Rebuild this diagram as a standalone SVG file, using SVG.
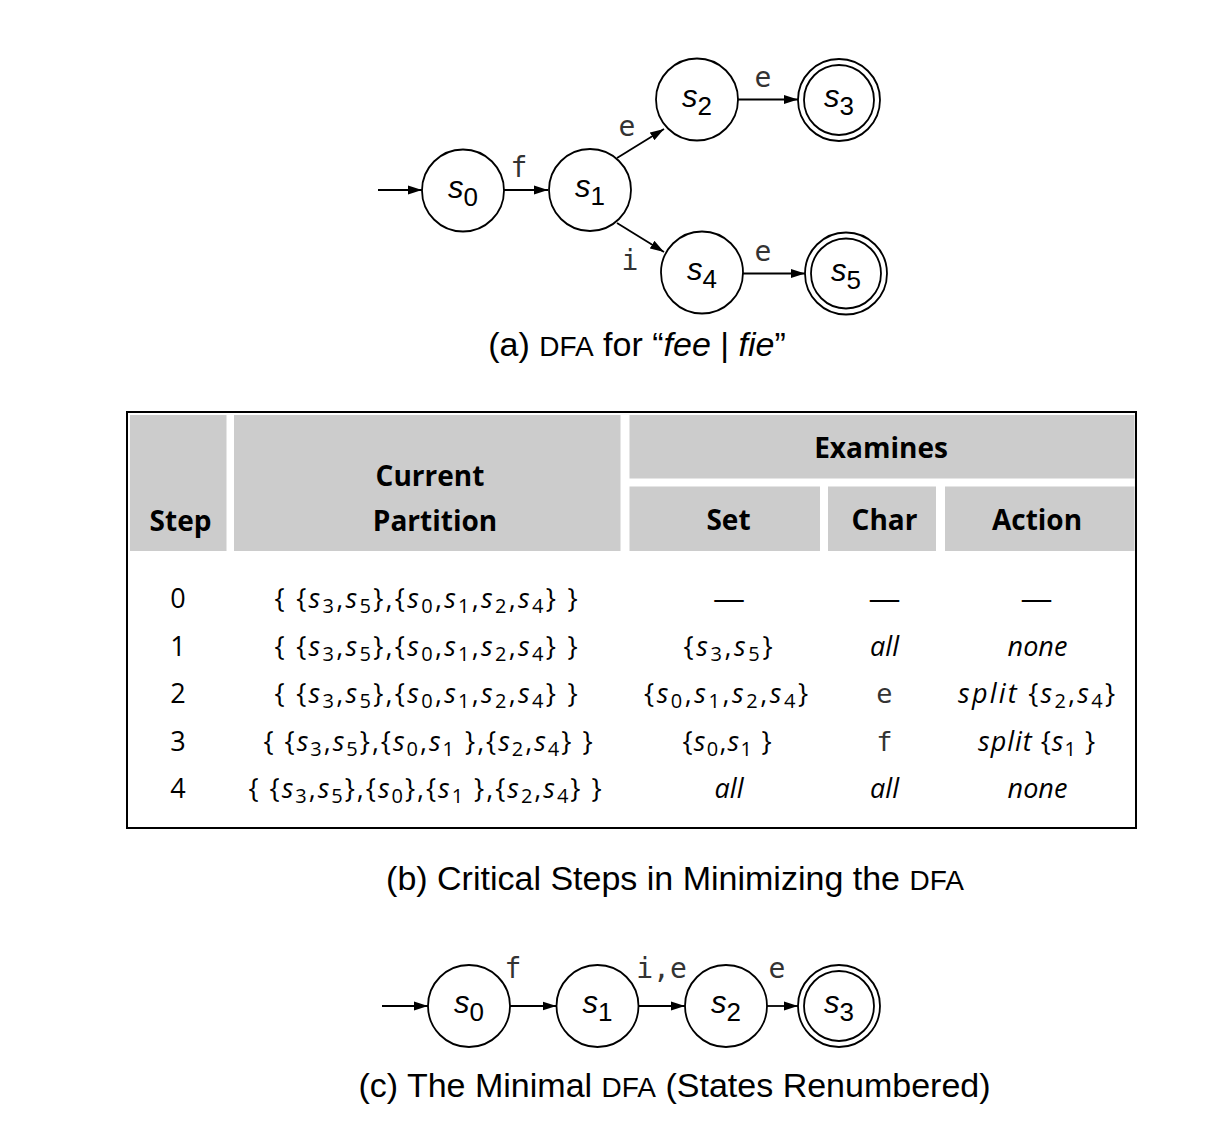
<svg xmlns="http://www.w3.org/2000/svg" width="1228" height="1134" viewBox="0 0 1228 1134">
<defs>
<marker id="ah" markerWidth="15" markerHeight="10" refX="14" refY="5" orient="auto" markerUnits="userSpaceOnUse"><path d="M0,0.5 L14,5 L0,9.5 z" fill="#000"/></marker>
<style>
.st{fill:#fff;stroke:#000;stroke-width:1.8}
.ed{stroke:#000;stroke-width:1.8;fill:none;marker-end:url(#ah)}
.sl{font-family:"Liberation Sans",Arial,sans-serif;font-style:italic;font-size:31px;text-anchor:middle;fill:#000}
.sub{font-style:normal;font-size:26px}
.lb{font-family:"DejaVu Sans Mono",monospace;font-size:28px;fill:#333;text-anchor:middle}
.cap{font-family:"Liberation Sans",Arial,sans-serif;font-size:34px;text-anchor:middle;fill:#000}
.sc{font-size:28px}
.hd{fill:#cccccc}
.ht{font-family:"Open Sans","Noto Sans",sans-serif;font-weight:bold;font-size:28px;text-anchor:middle;fill:#000}
.bt{font-family:"Open Sans","Noto Sans",sans-serif;font-size:27px;text-anchor:middle;fill:#000}
.it{font-style:italic}
.sb{font-size:20px;font-style:normal}
.mo{font-family:"DejaVu Sans Mono",monospace;font-size:27px;fill:#333}
</style>
</defs>
<rect width="1228" height="1134" fill="#fff"/>

<!-- (a) DFA -->
<g id="a_edges">
<line class="ed" x1="378" y1="190" x2="422" y2="190"/>
<line class="ed" x1="504" y1="190" x2="548" y2="190"/>
<line class="ed" x1="617" y1="158" x2="664" y2="129"/>
<line class="ed" x1="617" y1="223" x2="664" y2="252"/>
<line class="ed" x1="738" y1="99.5" x2="798" y2="99.5"/>
<line class="ed" x1="743" y1="273.5" x2="805" y2="273.5"/>
<text class="lb" x="519" y="177">f</text>
<text class="lb" x="627" y="136">e</text>
<text class="lb" x="630" y="270">i</text>
<text class="lb" x="763" y="87">e</text>
<text class="lb" x="763" y="261">e</text>
</g>
<g id="a_s0"><circle class="st" cx="463" cy="190.5" r="41"/><text class="sl" x="463" y="197.5">s<tspan class="sub" dy="8">0</tspan></text></g>
<g id="a_s1"><circle class="st" cx="590" cy="190" r="41"/><text class="sl" x="590" y="197">s<tspan class="sub" dy="8">1</tspan></text></g>
<g id="a_s2"><circle class="st" cx="697" cy="99.5" r="41"/><text class="sl" x="697" y="106.5">s<tspan class="sub" dy="8">2</tspan></text></g>
<g id="a_s3"><circle class="st" cx="839" cy="100" r="41"/><circle class="st" cx="839" cy="100" r="35"/><text class="sl" x="839" y="107">s<tspan class="sub" dy="8">3</tspan></text></g>
<g id="a_s4"><circle class="st" cx="702" cy="272.5" r="41"/><text class="sl" x="702" y="279.5">s<tspan class="sub" dy="8">4</tspan></text></g>
<g id="a_s5"><circle class="st" cx="846" cy="273.5" r="41"/><circle class="st" cx="846" cy="273.5" r="35"/><text class="sl" x="846" y="280.5">s<tspan class="sub" dy="8">5</tspan></text></g>
<text class="cap" x="637" y="356">(a) <tspan class="sc">DFA</tspan> for “<tspan font-style="italic">fee</tspan> | <tspan font-style="italic">fie</tspan>”</text>

<!-- (b) table -->
<g id="table">
<rect x="127" y="412" width="1009" height="416" fill="#fff" stroke="#000" stroke-width="2"/>
<rect class="hd" x="130" y="415" width="96.5" height="136"/>
<rect class="hd" x="234" y="415" width="386.5" height="136"/>
<rect class="hd" x="629.5" y="415" width="505" height="63.5"/>
<rect class="hd" x="629.5" y="486.5" width="190.5" height="64.5"/>
<rect class="hd" x="828" y="486.5" width="108" height="64.5"/>
<rect class="hd" x="945" y="486.5" width="189.5" height="64.5"/>
<text class="ht" x="180.5" y="531">Step</text>
<text class="ht" x="430" y="486">Current</text>
<text class="ht" x="435" y="531">Partition</text>
<text class="ht" x="881" y="458">Examines</text>
<text class="ht" x="728.5" y="530">Set</text>
<text class="ht" x="884.5" y="530">Char</text>
<text class="ht" x="1037" y="530">Action</text>

<text class="bt" x="178" y="608">0</text>
<text class="bt" x="178" y="655.6">1</text>
<text class="bt" x="178" y="703.2">2</text>
<text class="bt" x="178" y="750.8">3</text>
<text class="bt" x="178" y="798.4">4</text>

<text class="bt" x="426" y="608" textLength="303" lengthAdjust="spacing">{ {<tspan class="it">s</tspan><tspan class="sb" dy="5">3</tspan><tspan dy="-5">,</tspan><tspan class="it">s</tspan><tspan class="sb" dy="5">5</tspan><tspan dy="-5">},{</tspan><tspan class="it">s</tspan><tspan class="sb" dy="5">0</tspan><tspan dy="-5">,</tspan><tspan class="it">s</tspan><tspan class="sb" dy="5">1</tspan><tspan dy="-5">,</tspan><tspan class="it">s</tspan><tspan class="sb" dy="5">2</tspan><tspan dy="-5">,</tspan><tspan class="it">s</tspan><tspan class="sb" dy="5">4</tspan><tspan dy="-5">} }</tspan></text>
<text class="bt" x="426" y="655.6" textLength="303" lengthAdjust="spacing">{ {<tspan class="it">s</tspan><tspan class="sb" dy="5">3</tspan><tspan dy="-5">,</tspan><tspan class="it">s</tspan><tspan class="sb" dy="5">5</tspan><tspan dy="-5">},{</tspan><tspan class="it">s</tspan><tspan class="sb" dy="5">0</tspan><tspan dy="-5">,</tspan><tspan class="it">s</tspan><tspan class="sb" dy="5">1</tspan><tspan dy="-5">,</tspan><tspan class="it">s</tspan><tspan class="sb" dy="5">2</tspan><tspan dy="-5">,</tspan><tspan class="it">s</tspan><tspan class="sb" dy="5">4</tspan><tspan dy="-5">} }</tspan></text>
<text class="bt" x="426" y="703.2" textLength="303" lengthAdjust="spacing">{ {<tspan class="it">s</tspan><tspan class="sb" dy="5">3</tspan><tspan dy="-5">,</tspan><tspan class="it">s</tspan><tspan class="sb" dy="5">5</tspan><tspan dy="-5">},{</tspan><tspan class="it">s</tspan><tspan class="sb" dy="5">0</tspan><tspan dy="-5">,</tspan><tspan class="it">s</tspan><tspan class="sb" dy="5">1</tspan><tspan dy="-5">,</tspan><tspan class="it">s</tspan><tspan class="sb" dy="5">2</tspan><tspan dy="-5">,</tspan><tspan class="it">s</tspan><tspan class="sb" dy="5">4</tspan><tspan dy="-5">} }</tspan></text>
<text class="bt" x="428" y="750.8" textLength="329" lengthAdjust="spacing">{ {<tspan class="it">s</tspan><tspan class="sb" dy="5">3</tspan><tspan dy="-5">,</tspan><tspan class="it">s</tspan><tspan class="sb" dy="5">5</tspan><tspan dy="-5">},{</tspan><tspan class="it">s</tspan><tspan class="sb" dy="5">0</tspan><tspan dy="-5">,</tspan><tspan class="it">s</tspan><tspan class="sb" dy="5">1</tspan><tspan dy="-5"> },{</tspan><tspan class="it">s</tspan><tspan class="sb" dy="5">2</tspan><tspan dy="-5">,</tspan><tspan class="it">s</tspan><tspan class="sb" dy="5">4</tspan><tspan dy="-5">} }</tspan></text>
<text class="bt" x="425" y="798.4" textLength="353" lengthAdjust="spacing">{ {<tspan class="it">s</tspan><tspan class="sb" dy="5">3</tspan><tspan dy="-5">,</tspan><tspan class="it">s</tspan><tspan class="sb" dy="5">5</tspan><tspan dy="-5">},{</tspan><tspan class="it">s</tspan><tspan class="sb" dy="5">0</tspan><tspan dy="-5">},{</tspan><tspan class="it">s</tspan><tspan class="sb" dy="5">1</tspan><tspan dy="-5"> },{</tspan><tspan class="it">s</tspan><tspan class="sb" dy="5">2</tspan><tspan dy="-5">,</tspan><tspan class="it">s</tspan><tspan class="sb" dy="5">4</tspan><tspan dy="-5">} }</tspan></text>

<text class="bt" x="729" y="608" textLength="32" lengthAdjust="spacingAndGlyphs">—</text>
<text class="bt" x="884.5" y="608" textLength="32" lengthAdjust="spacingAndGlyphs">—</text>
<text class="bt" x="1036.5" y="608" textLength="32" lengthAdjust="spacingAndGlyphs">—</text>

<text class="bt" x="728" y="655.6" textLength="89" lengthAdjust="spacing">{<tspan class="it">s</tspan><tspan class="sb" dy="5">3</tspan><tspan dy="-5">,</tspan><tspan class="it">s</tspan><tspan class="sb" dy="5">5</tspan><tspan dy="-5">}</tspan></text>
<text class="bt" x="726" y="703.2" textLength="164" lengthAdjust="spacing">{<tspan class="it">s</tspan><tspan class="sb" dy="5">0</tspan><tspan dy="-5">,</tspan><tspan class="it">s</tspan><tspan class="sb" dy="5">1</tspan><tspan dy="-5">,</tspan><tspan class="it">s</tspan><tspan class="sb" dy="5">2</tspan><tspan dy="-5">,</tspan><tspan class="it">s</tspan><tspan class="sb" dy="5">4</tspan><tspan dy="-5">}</tspan></text>
<text class="bt" x="727" y="750.8" textLength="89" lengthAdjust="spacing">{<tspan class="it">s</tspan><tspan class="sb" dy="5">0</tspan><tspan dy="-5">,</tspan><tspan class="it">s</tspan><tspan class="sb" dy="5">1</tspan><tspan dy="-5"> }</tspan></text>
<text class="bt it" x="729" y="798.4">all</text>

<text class="bt it" x="884.5" y="655.6">all</text>
<text class="bt mo" x="884.5" y="703.2">e</text>
<text class="bt mo" x="884.5" y="750.8">f</text>
<text class="bt it" x="884.5" y="798.4">all</text>

<text class="bt it" x="1037.5" y="655.6">none</text>
<text class="bt" x="1036.5" y="703.2" textLength="157" lengthAdjust="spacing"><tspan class="it">split</tspan> {<tspan class="it">s</tspan><tspan class="sb" dy="5">2</tspan><tspan dy="-5">,</tspan><tspan class="it">s</tspan><tspan class="sb" dy="5">4</tspan><tspan dy="-5">}</tspan></text>
<text class="bt" x="1036.5" y="750.8" textLength="117" lengthAdjust="spacing"><tspan class="it">split</tspan> {<tspan class="it">s</tspan><tspan class="sb" dy="5">1</tspan><tspan dy="-5"> }</tspan></text>
<text class="bt it" x="1037.5" y="798.4">none</text>
</g>
<text class="cap" x="675" y="890">(b) Critical Steps in Minimizing the <tspan class="sc">DFA</tspan></text>

<!-- (c) minimal DFA -->
<g id="c_edges">
<line class="ed" x1="382" y1="1006" x2="428" y2="1006"/>
<line class="ed" x1="510" y1="1006" x2="556.5" y2="1006"/>
<line class="ed" x1="638.5" y1="1006" x2="685" y2="1006"/>
<line class="ed" x1="767" y1="1006" x2="798" y2="1006"/>
<text class="lb" x="513" y="978">f</text>
<text class="lb" x="661.5" y="978" font-size="26">i,e</text>
<text class="lb" x="777" y="978">e</text>
</g>
<g id="c_s0"><circle class="st" cx="469" cy="1006" r="41"/><text class="sl" x="469" y="1013">s<tspan class="sub" dy="8">0</tspan></text></g>
<g id="c_s1"><circle class="st" cx="597.5" cy="1006" r="41"/><text class="sl" x="597.5" y="1013">s<tspan class="sub" dy="8">1</tspan></text></g>
<g id="c_s2"><circle class="st" cx="726" cy="1006" r="41"/><text class="sl" x="726" y="1013">s<tspan class="sub" dy="8">2</tspan></text></g>
<g id="c_s3"><circle class="st" cx="839" cy="1006" r="41"/><circle class="st" cx="839" cy="1006" r="35"/><text class="sl" x="839" y="1013">s<tspan class="sub" dy="8">3</tspan></text></g>
<text class="cap" x="674.5" y="1097">(c) The Minimal <tspan class="sc">DFA</tspan> (States Renumbered)</text>
</svg>
